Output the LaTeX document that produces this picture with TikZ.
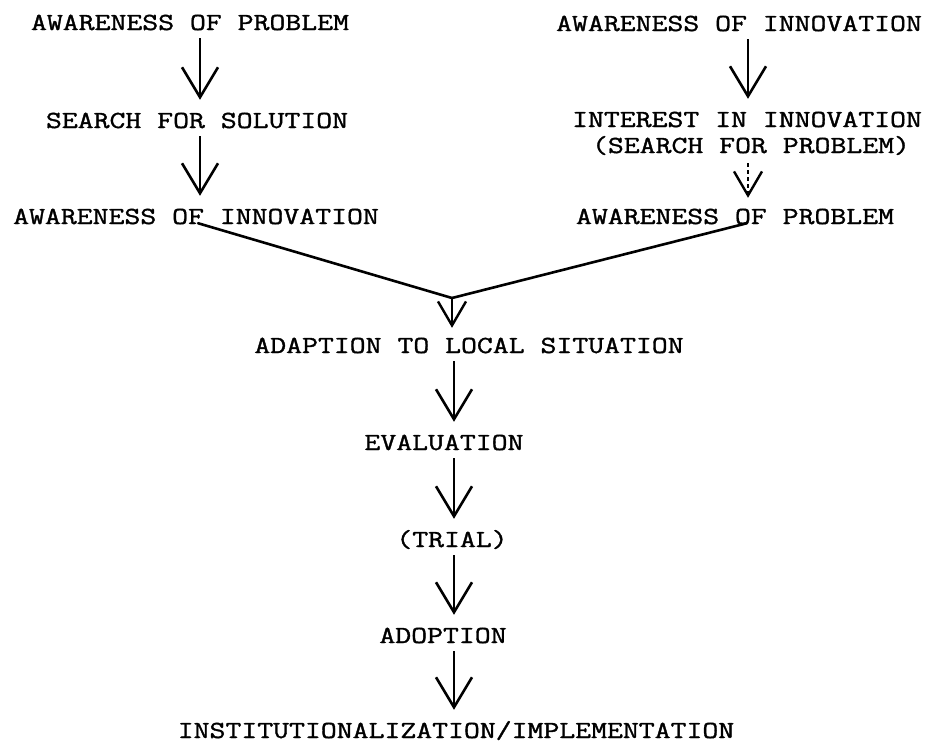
\documentclass[tikz,border=0pt]{standalone}
\usepackage{fontspec}
\newfontfamily\typewriter[FakeStretch=1.26,FakeBold=1.4]{Latin Modern Mono}
\usetikzlibrary{arrows.meta}
\tikzset{
  lbl/.style={font=\typewriter\fontsize{24.5pt}{26pt}\selectfont, inner sep=0pt,
              text height=15pt, text depth=4pt, anchor=base},
  bigarrow/.style={line width=2.6pt, shorten <=4pt, shorten >=13pt,
                   -{Straight Barb[length=30pt,width=36pt,line width=2.6pt]}},
  smallarrow/.style={line width=2.4pt,
                   -{Straight Barb[length=24pt,width=28pt,line width=2.4pt]}},
  joinline/.style={line width=2.6pt, line cap=round}
}
\begin{document}
\begin{tikzpicture}[x=1pt,y=-1pt]
  \useasboundingbox (0,0) rectangle (933,745);
  \fill[white] (0,0) rectangle (933,745);

  % column axes for the arrows
  \coordinate (lx) at (200,0);
  \coordinate (rx) at (748,0);
  \coordinate (mx) at (454,0);
  \coordinate (m)  at (452,298);

  % left branch
  \node[lbl] (L1) at (190,30)  {AWARENESS OF PROBLEM};
  \node[lbl] (L2) at (197,128) {SEARCH FOR SOLUTION};
  \node[lbl] (L3) at (196,224) {AWARENESS OF INNOVATION};

  % right branch
  \node[lbl] (R1) at (739,31)  {AWARENESS OF INNOVATION};
  \node[lbl] (R2) at (747,127) {INTEREST IN INNOVATION};
  \node[lbl] (R3) at (751,153) {(SEARCH FOR PROBLEM)};
  \node[lbl] (R4) at (735,224) {AWARENESS OF PROBLEM};

  % common trunk
  \node[lbl] (A)  at (469,353) {ADAPTION TO LOCAL SITUATION};
  \node[lbl] (E)  at (444,450) {EVALUATION};
  \node[lbl] (T)  at (452,547) {(TRIAL)};
  \node[lbl] (AD) at (443,643) {ADOPTION};
  \node[lbl] (I)  at (456,738) {INSTITUTIONALIZATION/IMPLEMENTATION};

  \draw[bigarrow] (L1.south -| lx) -- (L2.north -| lx);
  \draw[bigarrow] (L2.south -| lx) -- (L3.north -| lx);

  \draw[bigarrow] (R1.south -| rx) -- (R2.north -| rx);
  \draw[smallarrow, dash pattern=on 4pt off 3pt, shorten <=6pt, shorten >=11pt]
    (R3.south -| rx) -- (R4.north -| rx);

  % the two branches join
  \draw[joinline] ([xshift=2pt,yshift=5pt]L3.south) -- (m);
  \draw[joinline] ([xshift=12pt,yshift=5pt]R4.south) -- (m);
  \draw[smallarrow, shorten >=10pt] (m) -- (A.north -| m);

  \draw[bigarrow] (A.south -| mx)  -- (E.north -| mx);
  \draw[bigarrow] (E.south -| mx)  -- (T.north -| mx);
  \draw[bigarrow] (T.south -| mx)  -- (AD.north -| mx);
  \draw[bigarrow] (AD.south -| mx) -- (I.north -| mx);
\end{tikzpicture}
\end{document}
